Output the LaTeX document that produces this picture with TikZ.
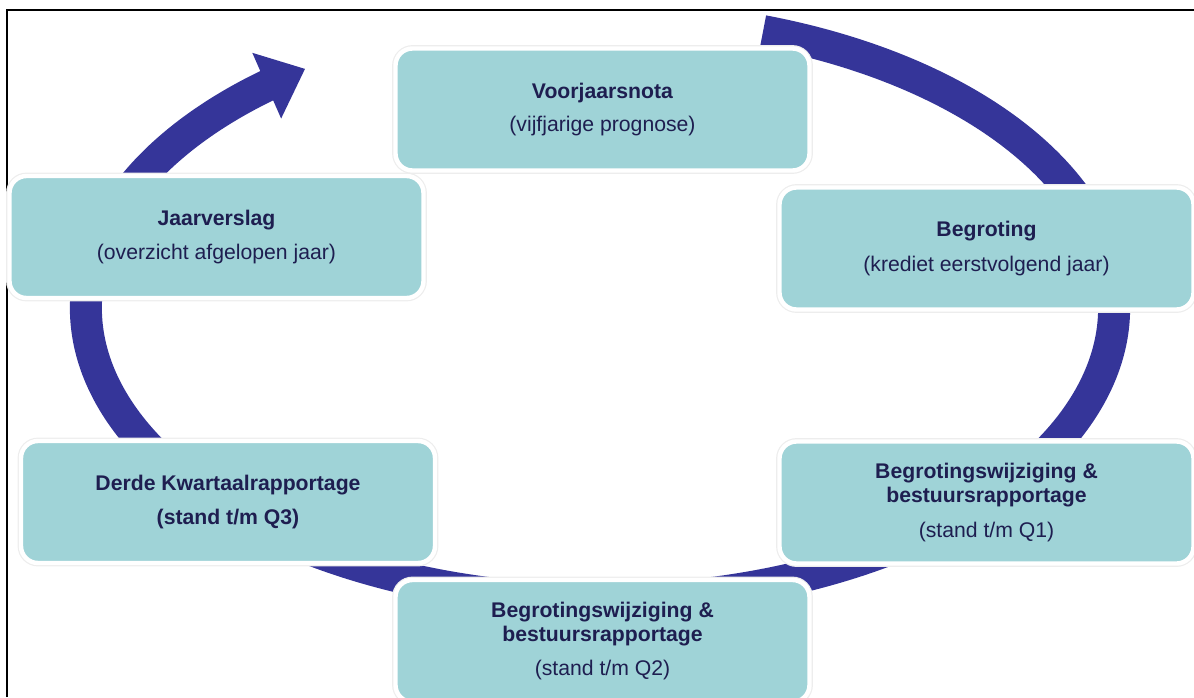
\documentclass[tikz,border=0pt]{standalone}
\usepackage{fontspec}
\setmainfont{Liberation Sans}
\usepackage{tikz}
\usetikzlibrary{positioning,arrows.meta,bending}
\definecolor{fasefill}{HTML}{9FD3D7}
\definecolor{ringblauw}{HTML}{353599}
\definecolor{tekstblauw}{HTML}{1E1E50}
\tikzset{
  fase/.style={
    rounded corners=8.5pt,
    minimum width=207pt,
    minimum height=61pt,
    inner sep=0pt,
    fill=fasefill,
    preaction={draw=black!7, line width=3.4pt},
    draw=white, line width=2.2pt,
    align=center,
    text=tekstblauw,
    font=\fontsize{10.6}{11.8}\selectfont
  },
  ring/.style={
    draw=ringblauw,
    line width=16pt,
    line cap=butt
  }
}

\begin{document}
\begin{tikzpicture}[x=0.5pt,y=0.5pt]
          \useasboundingbox (0,0) rectangle (1194,-697);
          \clip (0,0) rectangle (1194,-697);
          \draw[line width=0.85pt] (6.8,-697) -- (6.8,-10.2) -- (1194,-10.2);
          \coordinate (Midden) at (600,-308);
          \draw[ring, -{Triangle[length=21pt,width=34.5pt]}]
            ([shift={(71.5:257pt and 146pt)}]Midden)
            arc[start angle=71.5, end angle=-235, x radius=257pt, y radius=146pt];
          \node[fase] (Voorjaar) at (602.5,-109.5)
            {\textbf{Voorjaarsnota}\\[5pt](vijfjarige prognose)};
          \node[fase, on grid, below right=69.5pt and 192pt of Voorjaar] (Begroting)
            {\textbf{Begroting}\\[5.5pt](krediet eerstvolgend jaar)};
          \node[fase, on grid, below left=63.75pt and 193pt of Voorjaar] (Jaarverslag)
            {\textbf{Jaarverslag}\\[5pt](overzicht afgelopen jaar)};
          \node[fase, on grid, below right=132.5pt and 5.75pt of Jaarverslag] (Derde)
            {\textbf{Derde Kwartaalrapportage}\\[5pt]\textbf{(stand t/m Q3)}};
          \node[fase, on grid, below=127pt of Begroting] (WijzQ1)
            {\textbf{Begrotingswijziging \&}\\\textbf{bestuursrapportage}\\[5.5pt](stand t/m Q1)};
          \node[fase, on grid, below=265.75pt of Voorjaar] (WijzQ2)
            {\textbf{Begrotingswijziging \&}\\\textbf{bestuursrapportage}\\[5pt](stand t/m Q2)};
        \end{tikzpicture}
\end{document}
